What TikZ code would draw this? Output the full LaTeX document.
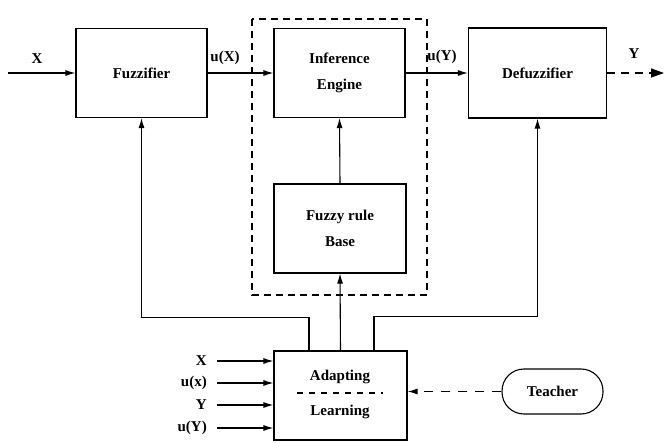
\documentclass[tikz,border=0pt]{standalone}
\usepackage{fontspec}
\setmainfont{Liberation Serif}
\usetikzlibrary{arrows.meta}

\begin{document}
\begin{tikzpicture}[x=1pt,y=-1pt,
  every node/.style={font=\fontsize{15}{26}\selectfont\bfseries},
  block/.style={draw,line width=1.1pt,align=center,inner sep=0pt},
  arr/.style={line width=1.1pt,-{Latex[length=10pt,width=6pt]}},
  dasharr/.style={line width=1.1pt,dash pattern=on 9pt off 8pt,-{Latex[length=10pt,width=6pt]}},
  outarr/.style={line width=1.4pt,dash pattern=on 8pt off 6pt,-{Triangle[length=13pt,width=9pt]}},
  lbl/.style={inner sep=1pt}
]
\useasboundingbox (0,0) rectangle (669,443);

% processing chain
\node[block,minimum width=131pt,minimum height=89pt] (fuzz) at (141.5,73) {Fuzzifier};
\node[block,minimum width=131pt,minimum height=89pt] (inf) at (339.5,73) {Inference\\Engine};
\node[block,minimum width=138pt,minimum height=90pt] (defuzz) at (537.5,73) {Defuzzifier};
\node[block,minimum width=132pt,minimum height=89pt] (rule) at (340,228.5) {Fuzzy rule\\Base};
\node[block,minimum width=133pt,minimum height=89pt] (adapt) at (340.5,395.5) {};
\node[draw,line width=1.1pt,minimum width=101pt,minimum height=45pt,rounded corners=22pt] (teach) at (552.5,391.5) {Teacher};

% dashed frame around the inference part
\draw[line width=1.1pt,dash pattern=on 7pt off 5pt] (252,19) rectangle (427,295);

% contents of the adapting / learning block
\node (adtxt) at (340,377) {Adapting};
\node (lrtxt) at (340,412) {Learning};
\draw[line width=1.1pt,dash pattern=on 6pt off 6pt] (297,393) -- (383,393);

% main signal path
\coordinate (xin) at (8,73);
\coordinate (yout) at (664,73);
\draw[arr] (xin) -- (xin -| fuzz.west);
\draw[arr] (fuzz.east) -- (inf.west);
\draw[arr] (inf.east) -- (defuzz.west);
\draw[outarr] (defuzz.east) -- (yout);
\draw[arr] (rule.north) -- (inf.south);

\node[lbl] (lx) at (37,59) {X};
\node[lbl] (lux) at (225,58) {u(X)};
\node[lbl] (luy) at (442,57) {u(Y)};
\node[lbl] (ly) at (634,54) {Y};

% feedback from the adapting block
\draw[arr] (adapt.north) -- (rule.south);
\draw[arr] ([xshift=-31.5pt]adapt.north) -- ++(0,-33) -| (fuzz.south);
\draw[arr] ([xshift=33.5pt]adapt.north) -- ++(0,-34) -| (defuzz.south);

% inputs of the adapting block
\foreach \n/\yy/\t in {a/361/X, b/383/u(x), c/405/Y, d/428/u(Y)} {
  \coordinate (in\n) at (217,\yy);
  \node[lbl,anchor=east] (t\n) at (208,\yy) {\t};
  \draw[arr] (in\n) -- (in\n -| adapt.west);
}

% teacher signal
\draw[dasharr] (teach.west) -- (teach.west -| adapt.east);
\end{tikzpicture}
\end{document}
